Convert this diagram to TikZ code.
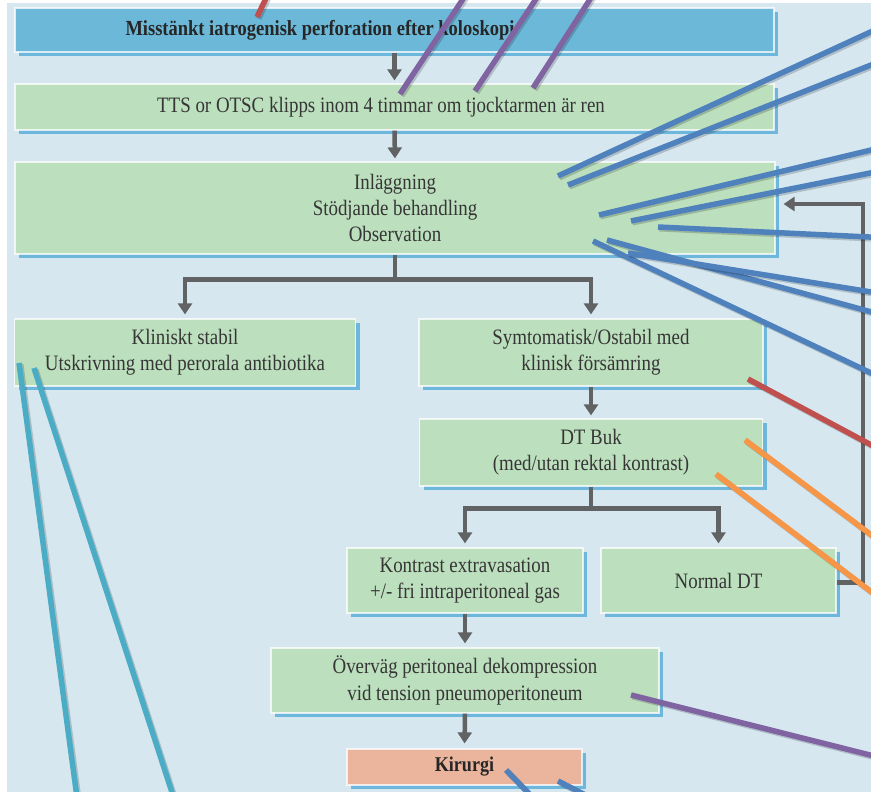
\documentclass[tikz,border=0pt]{standalone}
\usepackage{fontspec}
\setmainfont{Liberation Serif}[FakeStretch=0.86]
\usetikzlibrary{arrows.meta,shadows,calc}
\definecolor{bgblue}{HTML}{D6E7F0}
\definecolor{boxgreen}{HTML}{BCDFBD}
\definecolor{topblue}{HTML}{6CB8D9}
\definecolor{kirorange}{HTML}{EBB59D}
\definecolor{shadowblue}{HTML}{62B2DB}
\definecolor{arrowgray}{HTML}{616264}
\definecolor{txtgray}{HTML}{363636}
\definecolor{lblue}{HTML}{4F81BD}
\definecolor{lpurple}{HTML}{8064A2}
\definecolor{lred}{HTML}{C0504D}
\definecolor{lorange}{HTML}{F79646}
\definecolor{lcyan}{HTML}{4BACC6}
\tikzset{
  flowbox/.style={rectangle, fill=boxgreen, draw=white, draw opacity=0.75, line width=1.2pt,
    inner sep=0pt, align=center, text=txtgray,
    font=\fontsize{22}{26.3}\selectfont,
    drop shadow={shadow xshift=4pt, shadow yshift=-4pt, fill=shadowblue, opacity=0.9}},
  plaintext/.style={inner sep=0pt, align=center, text=txtgray, font=\fontsize{22}{26.3}\selectfont},
  flowarrow/.style={draw=arrowgray, line width=4.5pt, -{Triangle[width=14pt,length=11pt]}},
  leader/.style={line width=5.5pt, preaction={draw=black, draw opacity=0.18, line width=6pt, transform canvas={shift={(1.5pt,-1.5pt)}}}}
}
\begin{document}
\begin{tikzpicture}[x=1pt,y=-1pt]
\useasboundingbox (0,0) rectangle (871,792);
\clip (0,0) rectangle (871,792);
\fill[white] (0,0) rectangle (871,792);
\fill[bgblue] (7,3) rectangle (880,800);

% boxes
\node[flowbox, fill=topblue, minimum width=759pt, minimum height=44pt] (top) at (394.5,30) {};
\node[plaintext, font=\fontsize{21.5}{26}\selectfont\bfseries, text=black!85] (topt) at (320,30) {Misstänkt iatrogenisk perforation efter koloskopi};
\node[flowbox, minimum width=759pt, minimum height=46pt] (tts) at (394.5,107) {};
\node[plaintext] (ttst) at (381,107) {TTS or OTSC klipps inom 4 timmar om tjocktarmen är ren};
\node[flowbox, minimum width=760pt, minimum height=92pt] (inl) at (395,208) {Inläggning\\Stödjande behandling\\Observation};
\node[flowbox, minimum width=341pt, minimum height=67pt] (klin) at (185,352.5) {Kliniskt stabil\\Utskrivning med perorala antibiotika};
\node[flowbox, minimum width=344pt, minimum height=67pt] (sym) at (591,352.5) {Symtomatisk/Ostabil med\\klinisk försämring};
\node[flowbox, minimum width=343pt, minimum height=67pt] (dt) at (591,452.5) {DT Buk\\(med/utan rektal kontrast)};
\node[flowbox, minimum width=236pt, minimum height=65pt] (kon) at (465,580.5) {Kontrast extravasation\\+/- fri intraperitoneal gas};
\node[flowbox, minimum width=235pt, minimum height=65pt] (nor) at (718.5,580.5) {Normal DT};
\node[flowbox, minimum width=388pt, minimum height=65pt] (ove) at (465,680.5) {Överväg peritoneal dekompression\\vid tension pneumoperitoneum};
\node[flowbox, fill=kirorange, minimum width=235pt, minimum height=36pt, font=\fontsize{21}{24}\selectfont\bfseries, text=black!85] (kir) at (464.5,767) {Kirurgi};

% arrows
\draw[flowarrow, shorten >=3pt] (top.south) -- (tts.north);
\draw[flowarrow, shorten >=3pt] (tts.south) -- (inl.north);
\draw[flowarrow, shorten >=4pt] (inl.south) -- ++(0,25) -| (klin.north);
\draw[flowarrow, shorten >=4pt] (inl.south) -- ++(0,25) -| (sym.north);
\draw[flowarrow, shorten >=3pt] (sym.south) -- (dt.north);
\draw[flowarrow, shorten >=4pt] (dt.south) -- ++(0,22) -| (kon.north);
\draw[flowarrow, shorten >=4pt] (dt.south) -- ++(0,22) -| (nor.north);
\draw[flowarrow, shorten >=4pt] (kon.south) -- (ove.north);
\draw[flowarrow, shorten >=5pt] (ove.south) -- (kir.north);
\draw[flowarrow, shorten >=8pt] ([yshift=-2pt]nor.east) -- (863,582.5) |- ([yshift=4pt]inl.east);

% leader lines (overlay)
\draw[leader, lred] (257,17) -- (270,-10);
\draw[leader, lpurple] (400,94) -- (469,-10);
\draw[leader, lpurple] (475,91) -- (542,-10);
\draw[leader, lpurple] (533,88) -- (596,-10);
\draw[leader, lblue] (558,176) -- (890,23);
\draw[leader, lblue] (568,185) -- (890,57.5);
\draw[leader, lblue] (599,215) -- (890,145.5);
\draw[leader, lblue] (631,221) -- (890,169);
\draw[leader, lblue] (658,227) -- (890,238);
\draw[leader, lblue] (593,241) -- (890,382);
\draw[leader, lblue] (607,240) -- (890,317);
\draw[leader, lblue] (628,253) -- (890,295);
\draw[leader, lred] (748,379) -- (890,455);
\draw[leader, lorange] (745,440) -- (890,549);
\draw[leader, lorange] (716,474) -- (890,606);
\draw[leader, lpurple] (631,695) -- (890,760);
\draw[leader, lcyan] (19,363) -- (80,820);
\draw[leader, lcyan] (34,368) -- (181,820);
\draw[leader, lblue] (506,770) -- (540,805);
\draw[leader, lblue] (558,781) -- (605,805);
\end{tikzpicture}
\end{document}
